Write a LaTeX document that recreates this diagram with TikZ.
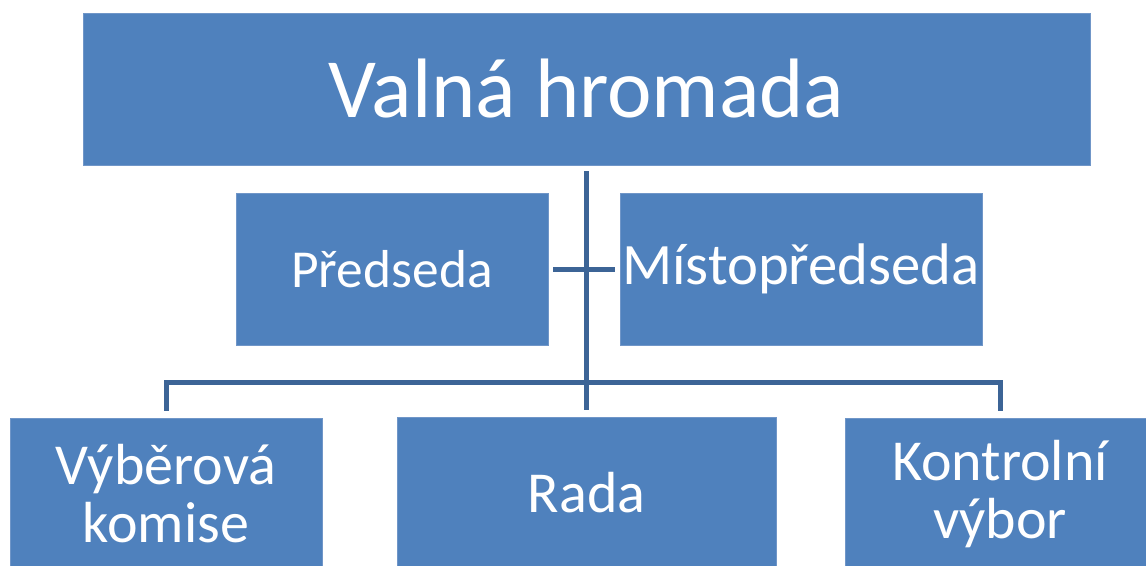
\documentclass[tikz,border=0pt]{standalone}
\usepackage{fontspec}
\setmainfont{Carlito}
\usetikzlibrary{positioning}
\definecolor{boxblue}{HTML}{4F81BD}
\definecolor{boxedge}{HTML}{7096C8}
\definecolor{linkblue}{HTML}{3C6496}
\tikzset{
  orgbox/.style={fill=boxblue,draw=boxedge,line width=0.4pt,text=white,align=center,inner sep=0pt},
  conn/.style={draw=linkblue,line width=0.1cm}
}
\begin{document}
\begin{tikzpicture}[x=0.02cm,y=-0.02cm]
\useasboundingbox (0,0) rectangle (1146,565);
\clip (0,0) rectangle (1146,565);
% top
\node[orgbox,minimum width=20.14cm,minimum height=3.04cm,font=\fontsize{48}{56}\selectfont] (vh) at (586.5,89) {Valná hromada};
% second level
\node[orgbox,minimum width=6.24cm,minimum height=3.04cm,font=\fontsize{30.4}{36}\selectfont] (pred) at (392,269) {Předseda};
\node[orgbox,minimum width=7.24cm,minimum height=3.04cm,font=\fontsize{33.4}{38}\selectfont] (mist) at (801,269) {Místopředseda};
% bottom row
\node[orgbox,minimum width=6.24cm,minimum height=3.04cm,font=\fontsize{33}{33}\selectfont] (vyb) at (166,494) {Výběrová\\komise};
\node[orgbox,minimum width=7.58cm,minimum height=3.04cm,font=\fontsize{33}{33}\selectfont] (rada) at (586.5,493) {Rada};
\node[orgbox,minimum width=6.20cm,minimum height=3.04cm,font=\fontsize{33}{33}\selectfont] (kontr) at (1000,494) {Kontrolní\\výbor};
% connectors
\coordinate (bus) at (586.5,382);
\draw[conn,shorten <=0.12cm,shorten >=0.14cm] (vh.south) -- (rada.north);
\draw[conn,shorten <=0.1cm,shorten >=0.1cm] (pred.east) -- (mist.west);
\draw[conn,shorten <=0.14cm,shorten >=0.14cm] (vyb.north) |- (bus) -| (kontr.north);
\end{tikzpicture}
\end{document}
